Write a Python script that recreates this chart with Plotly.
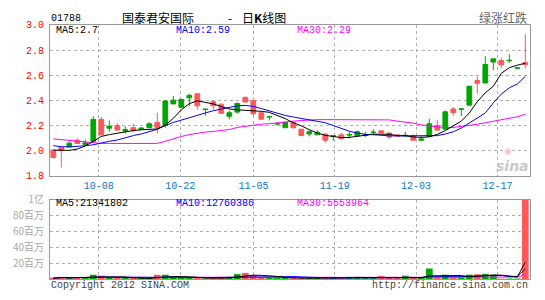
import plotly.graph_objects as go
import pandas as pd

W, H = 545, 300

# ---------------- data ----------------
opens = [2.005, 2.025, 2.030, 2.083, 2.050, 2.075, 2.249, 2.179, 2.200, 2.156,
         2.183, 2.168, 2.183, 2.225, 2.200, 2.372, 2.345, 2.420, 2.453, 2.328,
         2.390, 2.370, 2.274, 2.307, 2.423, 2.400, 2.302, 2.268, 2.212, 2.183,
         2.226, 2.171, 2.133, 2.126, 2.133, 2.116, 2.126, 2.124, 2.118, 2.122,
         2.144, 2.158, 2.141, 2.126, 2.120, 2.118, 2.083, 2.113, 2.200, 2.171,
         2.332, 2.330, 2.362, 2.558, 2.538, 2.705, 2.717, 2.715, 2.655, 2.700]
highs = [2.005, 2.025, 2.075, 2.100, 2.088, 2.272, 2.270, 2.240, 2.219, 2.194,
         2.214, 2.185, 2.226, 2.302, 2.400, 2.435, 2.408, 2.453, 2.453, 2.330,
         2.398, 2.375, 2.320, 2.383, 2.432, 2.400, 2.302, 2.270, 2.226, 2.226,
         2.226, 2.171, 2.164, 2.164, 2.133, 2.118, 2.143, 2.151, 2.160, 2.151,
         2.171, 2.158, 2.141, 2.126, 2.151, 2.130, 2.118, 2.255, 2.247, 2.320,
         2.347, 2.334, 2.513, 2.591, 2.750, 2.730, 2.742, 2.767, 2.658, 2.926]
lows = [1.937, 1.866, 2.030, 2.055, 2.043, 2.075, 2.120, 2.150, 2.160, 2.138,
        2.146, 2.165, 2.180, 2.138, 2.183, 2.370, 2.340, 2.353, 2.327, 2.277,
        2.327, 2.295, 2.250, 2.297, 2.385, 2.277, 2.245, 2.240, 2.200, 2.183,
        2.175, 2.113, 2.113, 2.126, 2.063, 2.080, 2.083, 2.096, 2.118, 2.108,
        2.123, 2.140, 2.093, 2.118, 2.108, 2.083, 2.083, 2.113, 2.156, 2.171,
        2.277, 2.277, 2.362, 2.453, 2.538, 2.641, 2.659, 2.699, 2.655, 2.655]
closes = [1.945, 2.000, 2.060, 2.058, 2.063, 2.249, 2.126, 2.194, 2.164, 2.168,
          2.161, 2.181, 2.214, 2.183, 2.395, 2.402, 2.408, 2.440, 2.357, 2.330,
          2.357, 2.297, 2.302, 2.375, 2.387, 2.294, 2.251, 2.270, 2.215, 2.226,
          2.183, 2.121, 2.151, 2.146, 2.083, 2.118, 2.096, 2.128, 2.151, 2.125,
          2.147, 2.141, 2.108, 2.118, 2.122, 2.083, 2.093, 2.214, 2.164, 2.309,
          2.302, 2.332, 2.513, 2.536, 2.685, 2.730, 2.682, 2.718, 2.658, 2.685]

ma5 = [2.005, 2.005, 2.003, 2.013, 2.038, 2.075, 2.113, 2.128, 2.140, 2.151,
       2.160, 2.166, 2.170, 2.173, 2.204, 2.257, 2.325, 2.374, 2.396, 2.385,
       2.372, 2.351, 2.332, 2.325, 2.322, 2.320, 2.313, 2.305, 2.279, 2.255,
       2.222, 2.198, 2.167, 2.141, 2.122, 2.110, 2.104, 2.106, 2.113, 2.119,
       2.131, 2.131, 2.131, 2.119, 2.119, 2.109, 2.106, 2.110, 2.130, 2.160,
       2.197, 2.235, 2.300, 2.390, 2.460, 2.512, 2.615, 2.660, 2.680, 2.695]
ma10 = [2.040, 2.032, 2.030, 2.033, 2.040, 2.047, 2.063, 2.075, 2.085, 2.105,
        2.120, 2.133, 2.151, 2.170, 2.200, 2.225, 2.243, 2.260, 2.280, 2.300,
        2.318, 2.330, 2.345, 2.357, 2.360, 2.352, 2.335, 2.315, 2.295, 2.280,
        2.268, 2.258, 2.248, 2.235, 2.222, 2.200, 2.175, 2.155, 2.140, 2.130,
        2.127, 2.122, 2.118, 2.118, 2.118, 2.118, 2.118, 2.115, 2.120, 2.133,
        2.150, 2.180, 2.220, 2.255, 2.300, 2.380, 2.450, 2.500, 2.530, 2.590]
ma30 = [2.094, 2.088, 2.080, 2.075, 2.068, 2.063, 2.058, 2.058, 2.058, 2.058,
        2.058, 2.058, 2.058, 2.058, 2.075, 2.095, 2.113, 2.128, 2.140, 2.148,
        2.153, 2.160, 2.168, 2.185, 2.195, 2.207, 2.211, 2.214, 2.222, 2.230,
        2.235, 2.240, 2.245, 2.247, 2.247, 2.247, 2.247, 2.247, 2.247, 2.247,
        2.247, 2.247, 2.245, 2.235, 2.228, 2.219, 2.205, 2.196, 2.190, 2.183,
        2.185, 2.193, 2.200, 2.210, 2.222, 2.235, 2.250, 2.260, 2.270, 2.290]

volume_m = [1.0, 2.7, 1.2, 1.5, 0.8, 5.4, 4.3, 1.2, 0.8, 0.8,
            0.8, 0.6, 1.0, 5.4, 5.4, 2.7, 1.0, 0.8, 1.0, 0.5,
            0.8, 2.7, 2.7, 6.2, 7.7, 5.0, 1.5, 1.2, 1.0, 1.5,
            1.0, 1.2, 0.8, 0.8, 1.0, 2.7, 1.0, 2.7, 2.7, 0.8,
            0.6, 3.9, 1.2, 0.8, 4.2, 1.0, 0.8, 13.2, 1.5, 5.4,
            1.0, 1.0, 5.5, 6.0, 6.5, 5.4, 0.5, 0.4, 0.4, 100.0]

tick_idx = [6, 16, 25, 35, 45, 55]
tick_text = ["10-08", "10-22", "11-05", "11-19", "12-03", "12-17"]
price_ticks = [1.8, 2.0, 2.2, 2.4, 2.6, 2.8, 3.0]
vol_tick_vals = [20e6, 40e6, 60e6, 80e6, 100e6]
vol_tick_text = ["20百万", "40百万", "60百万", "80百万", "1亿"]
ma_price_labels = ["MA5:2.7", "MA10:2.59", "MA30:2.29"]
ma_vol_labels = ["MA5:21341802", "MA10:12760386", "MA30:5553964"]

# ---------------- derived ----------------
n = len(closes)
idx = list(range(n))
vol = [v * 1e6 for v in volume_m]
vs = pd.Series(vol)
vma5 = vs.rolling(5, min_periods=1).mean().tolist()
vma10 = vs.rolling(10, min_periods=1).mean().tolist()
vma30 = vs.rolling(30, min_periods=1).mean().tolist()

GREEN = "#00a600"
RED = "#ff5858"
vol_colors = [GREEN if c >= o else RED for o, c in zip(opens, closes)]

# grid lines are spaced on a slightly different step than the candles
tick_pos = [(50 + k * 480 / 59 - 53.3) / 8 for k in tick_idx]

MONO = "Liberation Mono"
CJK = "Noto Sans CJK SC"

fig = go.Figure()
fig.add_trace(go.Candlestick(
    x=idx, open=opens, high=highs, low=lows, close=closes,
    increasing=dict(line=dict(color=GREEN, width=1), fillcolor=GREEN),
    decreasing=dict(line=dict(color=RED, width=1), fillcolor=RED),
    whiskerwidth=0, xaxis="x", yaxis="y", hoverinfo="skip"))
for arr, col in [(ma30, "#ff00ff"), (ma10, "#0000ff"), (ma5, "#000000")]:
    fig.add_trace(go.Scatter(x=idx, y=arr, mode="lines",
                             line=dict(color=col, width=1),
                             xaxis="x", yaxis="y", hoverinfo="skip"))

fig.add_trace(go.Bar(x=idx, y=vol, marker=dict(color=vol_colors, line=dict(width=0)),
                     xaxis="x2", yaxis="y2", hoverinfo="skip"))
for arr, col in [(vma30, "#ff00ff"), (vma10, "#0000ff"), (vma5, "#000000")]:
    fig.add_trace(go.Scatter(x=idx, y=arr, mode="lines",
                             line=dict(color=col, width=1),
                             xaxis="x2", yaxis="y2", hoverinfo="skip"))

xr = [-0.4125, 59.525]
xdom = [50 / W, 529.5 / W]
grid = dict(showgrid=True, gridcolor="#b0b0b0", griddash="dot", gridwidth=1)
frame = dict(showline=True, mirror=True, linecolor="#999999", linewidth=1, zeroline=False)

fig.update_layout(
    width=W, height=H, margin=dict(l=0, r=0, t=0, b=0),
    paper_bgcolor="white", plot_bgcolor="white", showlegend=False,
    boxgap=0.16, bargap=0.16,
    xaxis=dict(domain=xdom, range=xr, anchor="y", tickmode="array",
               tickvals=tick_pos, ticktext=tick_text, ticks="",
               tickfont=dict(family=MONO, size=10, color="#0a78c8"),
               rangeslider=dict(visible=False), **grid, **frame),
    yaxis=dict(domain=[1 - 176.7 / H, 1 - 17.8 / H], range=[1.8, 3.0], anchor="x",
               tickmode="array", tickvals=price_ticks,
               ticktext=["%.1f" % t for t in price_ticks], ticks="",
               tickfont=dict(family=MONO, size=10, color="#ff0000"),
               ticklabelstandoff=3, **grid, **frame),
    xaxis2=dict(domain=xdom, range=xr, anchor="y2", tickmode="array",
                tickvals=tick_pos, showticklabels=False, ticks="", **grid, **frame),
    yaxis2=dict(domain=[1 - 285.3 / H, 1 - 201.7 / H], range=[0, 1e8], anchor="x2",
                tickmode="array", tickvals=vol_tick_vals, ticktext=vol_tick_text, ticks="",
                tickfont=dict(family=CJK, size=10, color="#a8a8a8"),
                ticklabelstandoff=3, **grid, **frame),
)


def ann(text, x, y, color="#000000", size=10, family=MONO, xanchor="left"):
    fig.add_annotation(text=text, x=x / W, y=1 - y / H, xref="paper", yref="paper",
                       xanchor=xanchor, yanchor="middle", showarrow=False,
                       font=dict(family=family, size=size, color=color))


ann("01788", 49, 11)
ann("国泰君安国际", 120, 10, size=12, family=CJK)
ann("-", 229.5, 10, size=12, family=CJK, xanchor="center")
ann("日<b>K</b>线图", 240, 10, size=12, family=CJK)
ann("绿涨红跌", 529, 10, color="#666666", size=12, family=CJK, xanchor="right")

ann(ma_price_labels[0], 54, 23.5)
ann(ma_price_labels[1], 174, 23.5, color="#0000ff")
ann(ma_price_labels[2], 294.5, 23.5, color="#ff00ff")

ann(ma_vol_labels[0], 54, 206)
ann(ma_vol_labels[1], 174, 206, color="#0000ff")
ann(ma_vol_labels[2], 294.5, 206, color="#ff00ff")

ann("Copyright 2012 SINA.COM", 49, 292, color="#444444")
ann("http://finance.sina.com.cn", 530, 292, color="#444444", xanchor="right")

# sina watermark
ann("<b><i>sina</i></b>", 512, 166, color="#c8c8c8", size=14, family="DejaVu Sans", xanchor="center")
ann("◉", 508, 150, color="#f4c0c0", size=9, family="DejaVu Sans", xanchor="center")

fig.write_html("out.html")
